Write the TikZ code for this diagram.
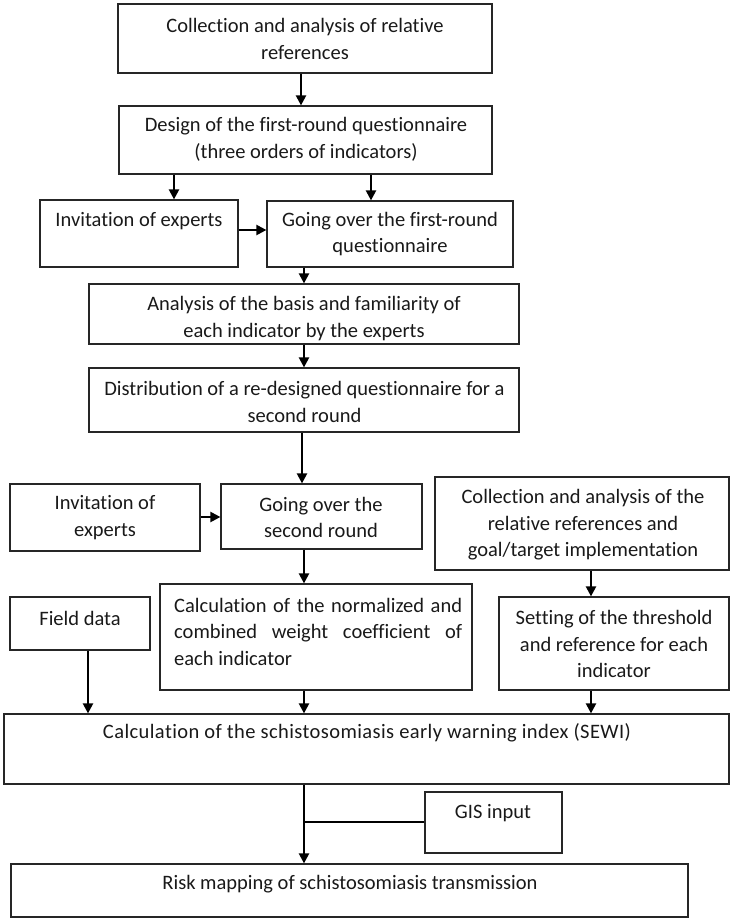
\documentclass[tikz,border=0pt]{standalone}
\usepackage{fontspec}
\setmainfont[Ligatures=NoCommon]{Carlito}
\usetikzlibrary{arrows.meta}
\newcommand\bxat[5]{\node[bx,minimum width={#4pt-#2pt},minimum height={#5pt-#3pt}] (#1) at ({(#2+#4)/2},{(#3+#5)/2}) {};}
\begin{document}
\begin{tikzpicture}[x=1pt,y=-1pt,
  bx/.style={draw=black!85,line width=1.2pt,inner sep=0pt},
  txt/.style={inner sep=0pt,align=center,font=\fontsize{20.5}{26.5}\selectfont,text=black!90},
  arr/.style={line width=2.2pt,-{Triangle[length=10pt,width=10pt]}},
  ln/.style={line width=1.2pt}]
\useasboundingbox (0,0) rectangle (734,922);
% boxes
\bxat{b1}{118}{4}{492}{73}
\bxat{b2}{119}{106}{492}{174}
\bxat{b3}{40}{200}{238}{267}
\bxat{b4}{267}{201}{513}{267}
\bxat{b5}{89}{284}{519}{344}
\bxat{b6}{89}{368}{519}{432}
\bxat{b7}{10}{484}{200}{551}
\bxat{b8}{221}{484}{422}{549}
\bxat{b9}{435}{477}{729}{570}
\bxat{b11}{10}{597}{150}{650}
\bxat{b12}{160}{584}{472}{690}
\bxat{b10}{499}{597}{729}{690}
\bxat{b13}{4}{714}{729}{784}
\bxat{b14}{425}{792}{562}{853}
\bxat{b15}{11}{864}{688}{917}
% texts
\node[txt] (t1) at (305,39) {Collection and analysis of relative\\references};
\node[txt] (t2) at (306,139.5) {Design of the first-round questionnaire\\(three orders of indicators)};
\node[txt] (t3) at (139,221) {Invitation of experts};
\node[txt] (t4) at (390,234) {Going over the first-round\\questionnaire};
\node[txt] (t5) at (304,318.5) {Analysis of the basis and familiarity of\\each indicator by the experts};
\node[txt] (t6) at (304.5,402) {Distribution of a re-designed questionnaire for a\\second round};
\node[txt] (t7) at (105,517.5) {Invitation of\\experts};
\node[txt] (t8) at (321,517.5) {Going over the\\second round};
\node[txt] (t9) at (583,524.7) {Collection and analysis of the\\relative references and\\goal/target implementation};
\node[txt] (t10) at (614,644.3) {Setting of the threshold\\and reference for each\\indicator};
\node[txt] (t11) at (80,618) {Field data};
\node[txt,align=justify,text width=288pt,anchor=west] (t12) at (174,631.5) {Calculation of the normalized and combined weight coefficient of each indicator};
\node[txt,font=\fontsize{20.5}{26.5}\selectfont\addfontfeature{LetterSpace=2}] (t13) at (367,733) {Calculation of the schistosomiasis early warning index (SEWI)};
\node[txt] (t14) at (493,813) {GIS input};
\node[txt] (t15) at (350,884) {Risk mapping of schistosomiasis transmission};
% columns and rows for connectors
\coordinate (ca) at (301,0);
\coordinate (cb) at (174,0);
\coordinate (cc) at (371,0);
\coordinate (cd) at (304,0);
\coordinate (ce) at (302,0);
\coordinate (cf) at (591,0);
\coordinate (cg) at (88,0);
\coordinate (r1) at (0,230);
\coordinate (r2) at (0,517);
\coordinate (r3) at (0,822);
% connectors
\draw[arr] (ca |- b1.south) -- (ca |- b2.north);
\draw[arr] (cb |- b2.south) -- (cb |- b3.north);
\draw[arr] (cc |- b2.south) -- (cc |- b4.north);
\draw[arr] (r1 -| b3.east) -- (r1 -| b4.west);
\draw[arr] (cd |- b4.south) -- (cd |- b5.north);
\draw[arr] (cd |- b5.south) -- (cd |- b6.north);
\draw[arr] (ce |- b6.south) -- (ce |- b8.north);
\draw[arr] (r2 -| b7.east) -- (r2 -| b8.west);
\draw[arr] (cd |- b8.south) -- (cd |- b12.north);
\draw[arr] (cf |- b9.south) -- (cf |- b10.north);
\draw[arr] (cg |- b11.south) -- (cg |- b13.north);
\draw[arr] (cd |- b12.south) -- (cd |- b13.north);
\draw[arr] (cf |- b10.south) -- (cf |- b13.north);
\draw[arr] (cd |- b13.south) -- (cd |- b15.north);
\coordinate (gj) at (cd |- r3);
\draw[ln] (r3 -| b14.west) -- (gj);
\end{tikzpicture}
\end{document}
